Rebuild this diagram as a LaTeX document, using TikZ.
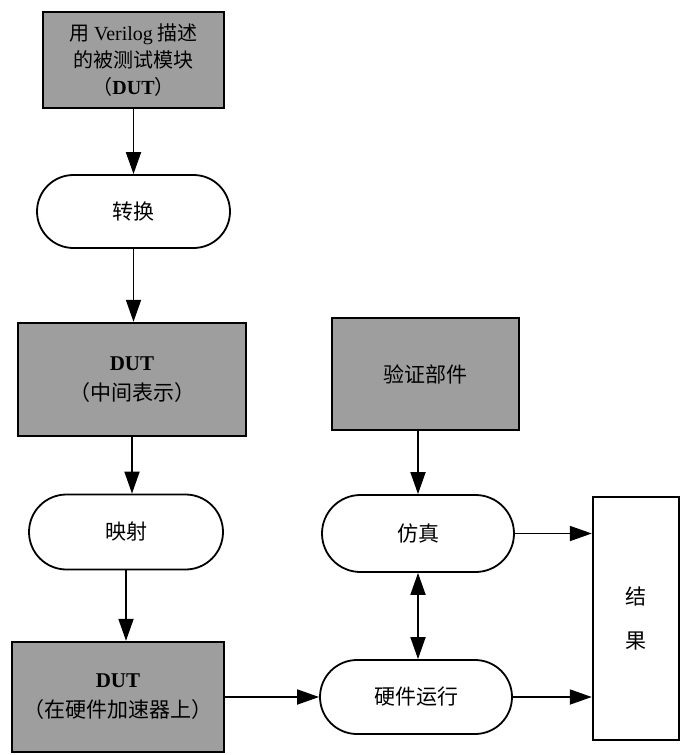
\documentclass[tikz,border=0pt]{standalone}
\usepackage{fontspec}
\setmainfont{Liberation Serif}
\newfontfamily\cjk{Noto Sans CJK SC}
\usetikzlibrary{shapes.misc,arrows.meta}

\begin{document}
\begin{tikzpicture}[x=0.5pt, y=-0.5pt,
  graybox/.style={draw, line width=1.2pt, fill=black!38, align=center, inner sep=0pt},
  pill/.style={draw, rounded rectangle, line width=0.9pt, fill=white, align=center, inner sep=0pt},
  flow/.style={line width=0.9pt, -{Triangle[length=11pt, width=7.5pt]}},
  bothway/.style={line width=0.9pt, {Triangle[length=11pt, width=7.5pt]}-{Triangle[length=11pt, width=7.5pt]}},
  font=\fontsize{10.5pt}{15pt}\cjk]
  \useasboundingbox (0,0) rectangle (681,755);
  \node[graybox, minimum width=90.5pt, minimum height=48pt, font=\fontsize{10pt}{13.5pt}\cjk] (src) at (133.5,60) {用 {\rmfamily Verilog} 描述\\的被测试模块\\（{\rmfamily\bfseries DUT}）};
  \node[pill, minimum width=96.5pt, minimum height=36.5pt] (conv) at (133.5,211.5) {转换};
  \node[graybox, minimum width=114pt, minimum height=56.5pt] (mid) at (132,379.5) {{\rmfamily\bfseries DUT}\\（中间表示）};
  \node[pill, minimum width=97pt, minimum height=37.5pt] (map) at (126,532) {映射};
  \node[graybox, minimum width=106pt, minimum height=55pt] (acc) at (118,697) {{\rmfamily\bfseries DUT}\\（在硬件加速器上）};
  \node[graybox, minimum width=93.5pt, minimum height=56pt] (verify) at (425.5,374) {验证部件};
  \node[pill, minimum width=96pt, minimum height=38.5pt] (sim) at (418,533.5) {仿真};
  \node[pill, minimum width=96pt, minimum height=37pt] (hw) at (416,697) {硬件运行};
  \node[draw, line width=1.2pt, fill=white, align=center, minimum width=43pt, minimum height=121.5pt] (result) at (636,618.5) {结\\[7pt]果};
  \draw[flow] (src.south) -- (src.south |- conv.north);
  \draw[flow] (conv.south) -- (conv.south |- mid.north);
  \draw[flow] (mid.south) -- (mid.south |- map.north);
  \draw[flow] (map.south) -- (map.south |- acc.north);
  \draw[flow] (acc.east) -- (hw.west);
  \draw[flow] (verify.south -| sim) -- (sim.north);
  \draw[bothway] (sim.south) -- (sim.south |- hw.north);
  \draw[flow] (sim.east) -- (sim.east -| result.west);
  \draw[flow] (hw.east) -- (hw.east -| result.west);
\end{tikzpicture}
\end{document}
